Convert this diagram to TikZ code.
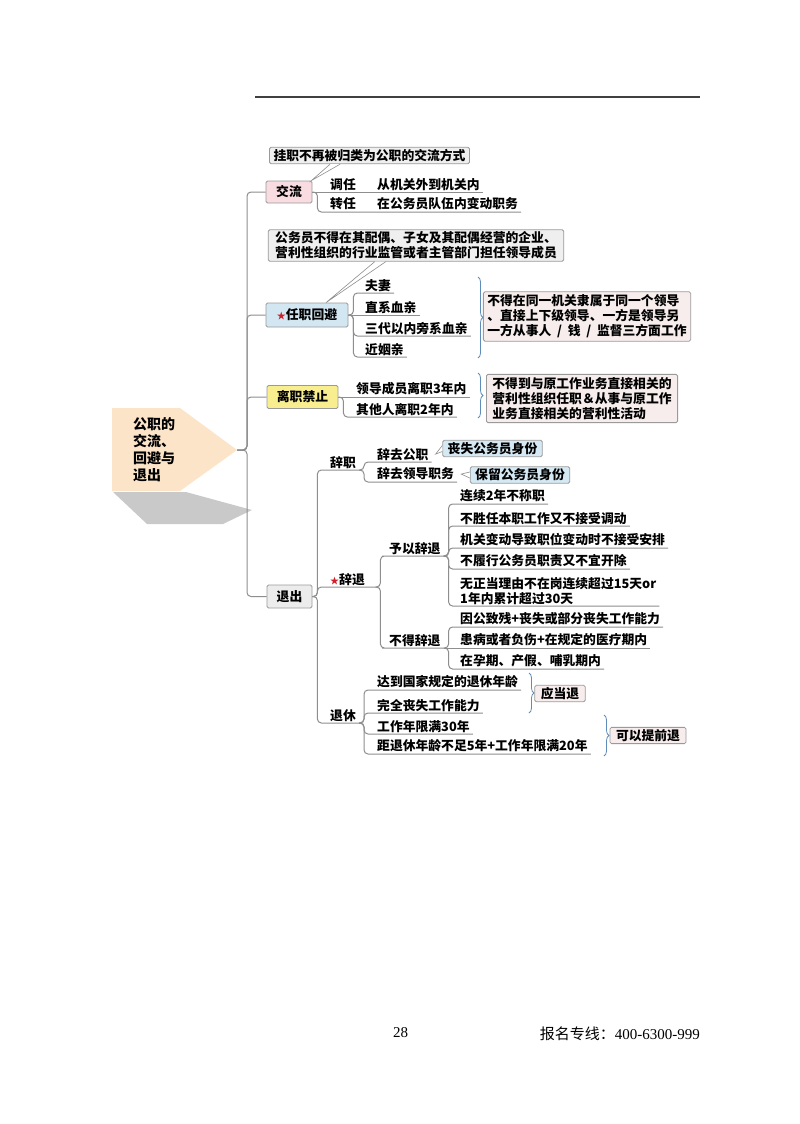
\documentclass[tikz,border=0pt]{standalone}
\usepackage{fontspec}
\setmainfont{Noto Sans CJK SC}
\newfontfamily\numfont{Liberation Serif}
\usetikzlibrary{calc}
\usetikzlibrary{decorations.pathreplacing}
\definecolor{peach}{HTML}{FCE4C8}
\definecolor{jlpink}{HTML}{F9DCE1}
\definecolor{rzblue}{HTML}{D3E7F3}
\definecolor{lzyellow}{HTML}{F8EE90}
\definecolor{tcgray}{HTML}{ECECEC}
\definecolor{notegray}{HTML}{EFEFEF}
\definecolor{boxpink}{HTML}{F7EDED}
\definecolor{sfblue}{HTML}{D5E9F4}
\definecolor{linegray}{HTML}{8E8E8E}
\definecolor{bordergray}{HTML}{9A9A9A}
\definecolor{bracecol}{HTML}{5E8DB9}
\definecolor{starred}{HTML}{D01F2A}
\definecolor{shadowgray}{HTML}{C9C9C9}

\begin{document}
\begin{tikzpicture}[x=1pt,y=-1pt,
  every node/.style={font=\fontsize{12.8}{15}\selectfont\bfseries},
  box/.style={draw=bordergray,line width=0.8pt,rounded corners=1.5pt,inner sep=0pt},
  textbox/.style={box,align=left,inner xsep=4pt,inner ysep=3pt},
  leaf/.style={anchor=south west,align=left,inner xsep=3pt,inner ysep=1.5pt},
  branch/.style={draw=linegray,line width=1pt,rounded corners=4pt},
  wedge/.style={draw=linegray,fill=white,line width=0.6pt},
  brace/.style={draw=bracecol,line width=0.8pt,decorate,decoration={brace,amplitude=5pt}}]

\fill[white] (0,0) rectangle (800,1124);
\useasboundingbox (0,0) rectangle (800,1124);

\draw[line width=1.6pt,gray!50!black] (255,97) -- (700,97);

% root
\fill[shadowgray] (113,492) -- (186,492) -- (252,510) -- (223,524) -- (147,524) -- cycle;
\fill[peach] (112,408) -- (180,408) -- (237,450) -- (180,491) -- (112,491) -- cycle;
\node[anchor=north west,align=left,inner sep=0pt,font=\fontsize{14}{17}\selectfont\bfseries] (root) at (133,417) {公职的\\交流、\\回避与\\退出};
\coordinate (tip) at (237,450);

% 交流
\node[box,fill=jlpink,minimum width=46,minimum height=22] (jl) at (289,192) {交流};
\node[textbox,fill=notegray,inner ysep=2pt] (jlnote) at (369.5,155.5) {挂职不再被归类为公职的交流方式};
\node[leaf] (dr) at (327,192) {调任};
\node[leaf] (drx) at (374,192) {从机关外到机关内};
\node[leaf] (zr) at (327,212) {转任};
\node[leaf] (zrx) at (374,212) {在公务员队伍内变动职务};
\draw[branch] (jl.east) -- (drx.south east);
\draw[branch] (jl.east) -- ++(5,0) |- (zr.south west) -- (zrx.south east);
\draw[wedge] ([xshift=61]jlnote.south west) -- ([xshift=-1]jl.north east) -- ([xshift=71]jlnote.south west);

% 任职回避
\node[box,fill=rzblue,minimum width=82,minimum height=24] (rz) at (307,315) {{\color{starred}\fontsize{9}{9}\selectfont★}任职回避};
\node[textbox,fill=notegray,inner xsep=7pt,inner ysep=2pt] (rznote) at (416,245.5) {公务员不得在其配偶、子女及其配偶经营的企业、\\营利性组织的行业监管或者主管部门担任领导成员};
\node[leaf] (fq) at (362,293) {夫妻};
\node[leaf] (zx) at (362,315) {直系血亲};
\node[leaf] (sd) at (362,336) {三代以内旁系血亲};
\node[leaf] (jy) at (362,357) {近姻亲};
\draw[branch] (rz.east) -- (zx.south east);
\foreach \c in {fq,sd,jy}
  \draw[branch] (rz.east) -- ++(5,0) |- (\c.south west) -- (\c.south east);
\draw[wedge] ([xshift=107]rznote.south west) -- ([xshift=19]rz.north) -- ([xshift=118]rznote.south west);
\draw[brace] (478,277) -- (478,358);
\node[textbox,fill=boxpink] (rzbox) at (587,316.5) {不得在同一机关隶属于同一个领导\\、直接上下级领导、一方是领导另\\一方从事人\hspace{0.45em}/\hspace{0.45em}钱\hspace{0.45em}/\hspace{0.45em}监督三方面工作};

% 离职禁止
\node[box,fill=lzyellow,minimum width=71,minimum height=23] (lz) at (302.5,397) {离职禁止};
\node[leaf] (lz1) at (353,397) {领导成员离职3年内};
\node[leaf] (lz2) at (353,417) {其他人离职2年内};
\draw[branch] (lz.east) -- (lz1.south east);
\draw[branch] (lz.east) -- ++(5,0) |- (lz2.south west) -- (lz2.south east);
\draw[brace] (478,373) -- (478,418);
\node[textbox,fill=boxpink,inner xsep=6pt] (lzbox) at (582,398.5) {不得到与原工作业务直接相关的\\营利性组织任职＆从事与原工作\\业务直接相关的营利性活动};

% 退出
\node[box,fill=tcgray,minimum width=45,minimum height=23] (tc) at (289.5,596.5) {退出};
\node[leaf] (cz) at (327,470) {辞职};
\node[leaf,text width=42] (ct) at (327,587) {{\color{starred}\fontsize{9}{9}\selectfont★}辞退};
\node[leaf] (tx) at (327,723) {退休};
\foreach \c in {cz,ct,tx}
  \draw[branch] (tc.east) -- ++(5,0) |- (\c.south west) -- (\c.south east);

% 辞职
\node[leaf] (cqgz) at (374,462) {辞去公职};
\node[leaf] (cqld) at (374,482) {辞去领导职务};
\foreach \c in {cqgz,cqld}
  \draw[branch] (cz.south east) -- ++(5,0) |- (\c.south west) -- (\c.south east);
\node[textbox,fill=sfblue,inner xsep=5pt,inner ysep=2pt] (ss) at (492.5,448.5) {丧失公务员身份};
\node[textbox,fill=sfblue,inner xsep=5pt,inner ysep=2pt] (bl) at (520,475) {保留公务员身份};
\draw[wedge] ([yshift=3]ss.west) -- ([xshift=4]cqgz.east) -- ([yshift=-3]ss.west);
\draw[wedge] ([yshift=3]bl.west) -- ([xshift=4]cqld.east) -- ([yshift=-3]bl.west);

% 辞退
\node[leaf] (yy) at (386,556) {予以辞退};
\node[leaf] (bd) at (386,648) {不得辞退};
\foreach \c in {yy,bd}
  \draw[branch] (ct.south east) -- ++(5,0) |- (\c.south west) -- (\c.south east);
\node[leaf] (lx1) at (457,504) {连续2年不称职};
\node[leaf] (lx2) at (457,526) {不胜任本职工作又不接受调动};
\node[leaf] (lx3) at (457,548) {机关变动导致职位变动时不接受安排};
\node[leaf] (lx4) at (457,569) {不履行公务员职责又不宜开除};
\node[leaf] (lx5) at (457,606) {无正当理由不在岗连续超过15天or\\1年内累计超过30天};
\foreach \c in {lx1,lx2,lx3,lx4,lx5}
  \draw[branch] (yy.south east) -- ++(5,0) |- (\c.south west) -- (\c.south east);
\node[leaf] (bd1) at (457,627) {因公致残+丧失或部分丧失工作能力};
\node[leaf] (bd2) at (457,648) {患病或者负伤+在规定的医疗期内};
\node[leaf] (bd3) at (457,669) {在孕期、产假、哺乳期内};
\draw[branch] (bd.south east) -- (bd2.south east);
\foreach \c in {bd1,bd3}
  \draw[branch] (bd.south east) -- ++(5,0) |- (\c.south west) -- (\c.south east);

% 退休
\node[leaf] (tx1) at (374,690) {达到国家规定的退休年龄};
\node[leaf] (tx2) at (374,713) {完全丧失工作能力};
\node[leaf] (tx3) at (374,734) {工作年限满30年};
\node[leaf] (tx4) at (374,754) {距退休年龄不足5年+工作年限满20年};
\foreach \c in {tx1,tx2,tx3,tx4}
  \draw[branch] (tx.south east) -- ++(5,0) |- (\c.south west) -- (\c.south east);
\draw[brace] (529,673) -- (529,713);
\node[textbox,fill=boxpink,inner xsep=6pt,inner ysep=2pt] (ydt) at (560,693.5) {应当退};
\draw[brace] (604,715) -- (604,756);
\node[textbox,fill=boxpink,inner xsep=6pt,inner ysep=2pt] (kytq) at (648,735.5) {可以提前退};

% trunk
\foreach \c in {jl,rz,lz,tc}
  \draw[branch] (tip) -- ++(10,0) |- (\c.west);

% footer
\node[inner sep=0pt,font=\numfont\fontsize{15}{15}\selectfont] (pagenum) at (400.5,1033) {28};
\node[anchor=east,inner sep=0pt,font=\fontsize{15}{15}\selectfont] (hotline) at (700,1034) {报名专线：{\numfont 400-6300-999}};
\end{tikzpicture}
\end{document}
